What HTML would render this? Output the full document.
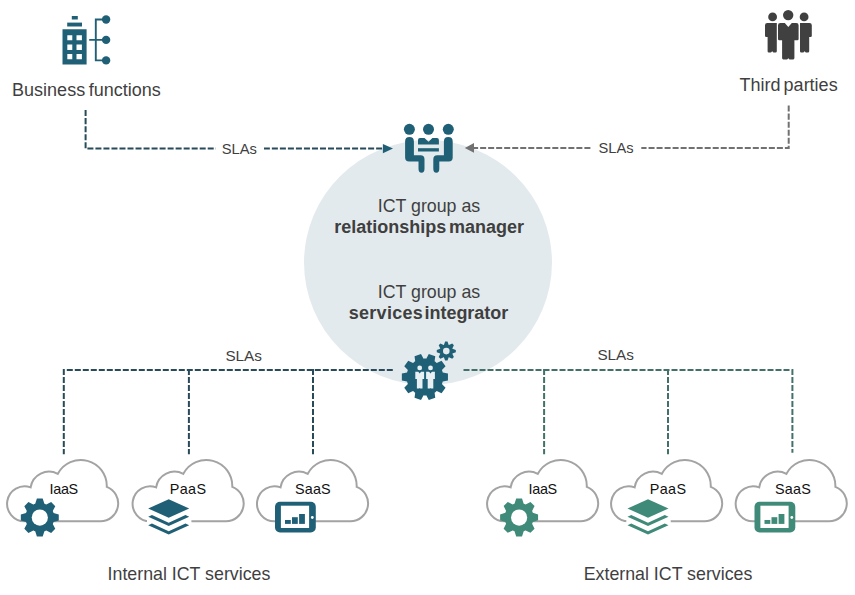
<!DOCTYPE html>
<html><head><meta charset="utf-8"><title>ICT group diagram</title>
<style>
html,body{margin:0;padding:0;background:#fff;}
body{width:855px;height:595px;overflow:hidden;}
svg{display:block;font-family:"Liberation Sans",sans-serif;}
</style></head><body>
<svg width="855" height="595" viewBox="0 0 855 595">
<ellipse cx="428" cy="262.6" rx="124" ry="122.5" fill="#e3eaed"/>
<g fill="#206077"><rect x="71.8" y="16" width="6" height="3.5"/><rect x="67.2" y="22.6" width="14.8" height="3.9"/><path d="M62.5 29.2H86.6V64.4H62.5Z M67.3 35.2h5v5.1h-5Z M76.5 35.2h5.4v5.1h-5.4Z M67.3 44.6h5v5.3h-5Z M76.5 44.6h5.4v5.3h-5.4Z M67.3 53.9h5v5.3h-5Z M76.5 53.9h5.4v5.3h-5.4Z" fill-rule="evenodd"/><circle cx="106.1" cy="19.5" r="4.2"/><circle cx="106.1" cy="39.9" r="4.2"/><circle cx="106.1" cy="60.4" r="4.2"/></g><path d="M89.2 39.9H106 M106 19.5H95.8V60.4H106" fill="none" stroke="#206077" stroke-width="1.9"/>
<g fill="#404040"><circle cx="772.6" cy="16.9" r="4.4"/><circle cx="804.1" cy="16.9" r="4.4"/><circle cx="788.2" cy="15.1" r="5.2"/><path d="M767.3 23H776.8V51.2Q776.8 52.5 775.6 52.5H773.4L772.2 51.3L771 52.5H768.8Q767.6 52.5 767.6 51.2V37H766.2Q765 37 765 35.8V25.3Q765 23 767.3 23Z"/><path d="M809.5 23H800V51.2Q800 52.5 801.2 52.5H803.4L804.6 51.3L805.8 52.5H808Q809.2 52.5 809.2 51.2V37H810.6Q811.8 37 811.8 35.8V25.3Q811.8 23 809.5 23Z"/></g><path d="M777 22.1H799.6V41.2H795.4V60.3H781.1V41.2H777Z" fill="#fff"/><path d="M780.4 23H784.8L788.3 27L791.8 23H796.3Q798.6 23 798.6 25.3V39Q798.6 40.2 797.4 40.2H794.4V58.1Q794.4 59.4 793.2 59.4H789.5L788.3 58.2L787.1 59.4H783.3Q782.1 59.4 782.1 58.1V40.2H779.2Q778 40.2 778 39V25.3Q778 23 780.4 23Z" fill="#404040"/>
<g fill="#206077"><circle cx="409.4" cy="129.3" r="5.5"/><circle cx="428.5" cy="129.3" r="5.5"/><circle cx="448.3" cy="129.3" r="5.5"/><path d="M405.1 141.5Q405.1 137.1 409.5 137.1Q413.9 137.1 413.9 141.5V155.2H420.5Q424.5 155.2 424.5 159.2V168.4Q424.5 172.7 421.5 172.7Q418.5 172.7 418.5 168.4V161.6H409.1Q405.1 161.6 405.1 157.6Z"/><path d="M452.7 141.5Q452.7 137.1 448.3 137.1Q443.9 137.1 443.9 141.5V155.2H437.3Q433.3 155.2 433.3 159.2V168.4Q433.3 172.7 436.3 172.7Q439.3 172.7 439.3 168.4V161.6H448.7Q452.7 161.6 452.7 157.6Z"/><path d="M420 138H424.5L428.5 141.7L432.4 138H437Q438.9 138 438.9 140V144.5H418V140Q418 138 420 138Z"/><rect x="418" y="148.2" width="20.9" height="3.3"/></g>
<path d="M85.6 110.1V148.4H383.5" fill="none" stroke="#274b59" stroke-width="2" stroke-dasharray="6.02 2"/>
<rect x="215.8" y="140" width="48.2" height="17" fill="#fff"/>
<polygon points="382.9,143.9 393,148.5 382.9,153.2" fill="#206077"/>
<path d="M788.7 105.6V147.9H473.5" fill="none" stroke="#717171" stroke-width="2" stroke-dasharray="6.02 2"/>
<rect x="591.2" y="140" width="50.1" height="17" fill="#fff"/>
<polygon points="474,143 464.8,147.9 474,152.8" fill="#717171"/>
<path d="M392.8 370.1H63.8V454.3" fill="none" stroke="#274b59" stroke-width="2" stroke-dasharray="6 2"/>
<path d="M188.9 369V454.3" fill="none" stroke="#274b59" stroke-width="2" stroke-dasharray="6 2"/>
<path d="M313 369V454.3" fill="none" stroke="#274b59" stroke-width="2" stroke-dasharray="6 2"/>
<path d="M463.5 370H792.4V452.7" fill="none" stroke="#43716a" stroke-width="2" stroke-dasharray="6 2"/>
<path d="M544.1 369V454.3" fill="none" stroke="#43716a" stroke-width="2" stroke-dasharray="6 2"/>
<path d="M668 369V454.3" fill="none" stroke="#43716a" stroke-width="2" stroke-dasharray="6 2"/>
<path d="M426.24 358.65L428.79 354.03L435.26 356.13L434.61 361.37L434.98 361.61L435.35 361.86L435.72 362.11L436.07 362.38L436.42 362.66L436.77 362.94L441.55 360.7L445.55 366.2L441.94 370.06L442.1 370.47L442.26 370.89L442.4 371.31L442.53 371.74L442.65 372.17L442.77 372.6L447.95 373.6L447.95 380.4L442.77 381.4L442.65 381.83L442.53 382.26L442.4 382.69L442.26 383.11L442.1 383.53L441.94 383.94L445.55 387.8L441.55 393.3L436.77 391.06L436.42 391.34L436.07 391.62L435.72 391.89L435.35 392.14L434.98 392.39L434.61 392.63L435.26 397.87L428.79 399.97L426.24 395.35L425.79 395.38L425.35 395.39L424.9 395.4L424.45 395.39L424.01 395.38L423.56 395.35L421.01 399.97L414.54 397.87L415.19 392.63L414.82 392.39L414.45 392.14L414.08 391.89L413.73 391.62L413.38 391.34L413.03 391.06L408.25 393.3L404.25 387.8L407.86 383.94L407.7 383.53L407.54 383.11L407.4 382.69L407.27 382.26L407.15 381.83L407.03 381.4L401.85 380.4L401.85 373.6L407.03 372.6L407.15 372.17L407.27 371.74L407.4 371.31L407.54 370.89L407.7 370.47L407.86 370.06L404.25 366.2L408.25 360.7L413.03 362.94L413.38 362.66L413.73 362.38L414.08 362.11L414.45 361.86L414.82 361.61L415.19 361.37L414.54 356.13L421.01 354.03L423.56 358.65L424.01 358.62L424.45 358.61L424.9 358.6L425.35 358.61L425.79 358.62Z" fill="#206077"/>
<path d="M443.9 344.95L445.1 341.58L447.5 341.58L448.7 344.95L448.74 344.97L448.78 344.99L448.83 345L448.87 345.02L448.91 345.04L448.95 345.06L452.19 343.52L453.88 345.21L452.34 348.45L452.36 348.49L452.38 348.53L452.4 348.57L452.41 348.62L452.43 348.66L452.45 348.7L455.82 349.9L455.82 352.3L452.45 353.5L452.43 353.54L452.41 353.58L452.4 353.63L452.38 353.67L452.36 353.71L452.34 353.75L453.88 356.99L452.19 358.68L448.95 357.14L448.91 357.16L448.87 357.18L448.83 357.2L448.78 357.21L448.74 357.23L448.7 357.25L447.5 360.62L445.1 360.62L443.9 357.25L443.86 357.23L443.82 357.21L443.77 357.2L443.73 357.18L443.69 357.16L443.65 357.14L440.41 358.68L438.72 356.99L440.26 353.75L440.24 353.71L440.22 353.67L440.2 353.63L440.19 353.58L440.17 353.54L440.15 353.5L436.78 352.3L436.78 349.9L440.15 348.7L440.17 348.66L440.19 348.62L440.2 348.57L440.22 348.53L440.24 348.49L440.26 348.45L438.72 345.21L440.41 343.52L443.65 345.06L443.69 345.04L443.73 345.02L443.77 345L443.82 344.99L443.86 344.97ZM443 351.1a3.3 3.3 0 1 0 6.6 0a3.3 3.3 0 1 0 -6.6 0Z" fill="#206077" fill-rule="evenodd"/>
<circle cx="419.7" cy="367.9" r="2.4" fill="#e9f0f3"/>
<path d="M415.3 371.8H418.3L419.7 373.4L421.1 371.8H424.1V379.1H422.5V388.6H420.2L419.7 388L419.2 388.6H416.9V379.1H415.3Z" fill="#e9f0f3"/>
<circle cx="430.5" cy="367.9" r="2.4" fill="#e9f0f3"/>
<path d="M426.1 371.8H429.1L430.5 373.4L431.9 371.8H434.9V379.1H433.3V388.6H431L430.5 388L430 388.6H427.7V379.1H426.1Z" fill="#e9f0f3"/>
<path d="M24.6 521.3A17.5 17.5 0 1 1 30.62 487.37A18.6 18.6 0 0 1 57.83 473.83A26 26 0 0 1 106.79 486.81A17.85 17.85 0 0 1 100.45 521.3Z" fill="#fff" stroke="#a3a3a3" stroke-width="2"/>
<path d="M150.1 521.3A17.5 17.5 0 1 1 156.12 487.37A18.6 18.6 0 0 1 183.33 473.83A26 26 0 0 1 232.29 486.81A17.85 17.85 0 0 1 225.95 521.3Z" fill="#fff" stroke="#a3a3a3" stroke-width="2"/>
<path d="M274.5 521.3A17.5 17.5 0 1 1 280.52 487.37A18.6 18.6 0 0 1 307.73 473.83A26 26 0 0 1 356.69 486.81A17.85 17.85 0 0 1 350.35 521.3Z" fill="#fff" stroke="#a3a3a3" stroke-width="2"/>
<path d="M504.6 521.3A17.5 17.5 0 1 1 510.62 487.37A18.6 18.6 0 0 1 537.83 473.83A26 26 0 0 1 586.79 486.81A17.85 17.85 0 0 1 580.45 521.3Z" fill="#fff" stroke="#a3a3a3" stroke-width="2"/>
<path d="M628.6 521.3A17.5 17.5 0 1 1 634.62 487.37A18.6 18.6 0 0 1 661.83 473.83A26 26 0 0 1 710.79 486.81A17.85 17.85 0 0 1 704.45 521.3Z" fill="#fff" stroke="#a3a3a3" stroke-width="2"/>
<path d="M753.2 521.3A17.5 17.5 0 1 1 759.22 487.37A18.6 18.6 0 0 1 786.43 473.83A26 26 0 0 1 835.39 486.81A17.85 17.85 0 0 1 829.05 521.3Z" fill="#fff" stroke="#a3a3a3" stroke-width="2"/>
<path d="M35.2 503.75L36.9 498.52L42.7 498.52L44.4 503.75L44.72 503.86L45.04 503.98L45.35 504.1L45.66 504.24L45.97 504.38L46.27 504.52L51.17 502.03L55.27 506.13L52.78 511.03L52.92 511.33L53.06 511.64L53.2 511.95L53.32 512.26L53.44 512.58L53.55 512.9L58.78 514.6L58.78 520.4L53.55 522.1L53.44 522.42L53.32 522.74L53.2 523.05L53.06 523.36L52.92 523.67L52.78 523.97L55.27 528.87L51.17 532.97L46.27 530.48L45.97 530.62L45.66 530.76L45.35 530.9L45.04 531.02L44.72 531.14L44.4 531.25L42.7 536.48L36.9 536.48L35.2 531.25L34.88 531.14L34.56 531.02L34.25 530.9L33.94 530.76L33.63 530.62L33.33 530.48L28.43 532.97L24.33 528.87L26.82 523.97L26.68 523.67L26.54 523.36L26.4 523.05L26.28 522.74L26.16 522.42L26.05 522.1L20.82 520.4L20.82 514.6L26.05 512.9L26.16 512.58L26.28 512.26L26.4 511.95L26.54 511.64L26.68 511.33L26.82 511.03L24.33 506.13L28.43 502.03L33.33 504.52L33.63 504.38L33.94 504.24L34.25 504.1L34.56 503.98L34.88 503.86Z" fill="#206077"/><circle cx="39.8" cy="517.6" r="8.1" fill="#fff"/>
<path d="M514.5 503.65L516.2 498.42L522 498.42L523.7 503.65L524.02 503.76L524.34 503.88L524.65 504L524.96 504.14L525.27 504.28L525.57 504.42L530.47 501.93L534.57 506.03L532.08 510.93L532.22 511.23L532.36 511.54L532.5 511.85L532.62 512.16L532.74 512.48L532.85 512.8L538.08 514.5L538.08 520.3L532.85 522L532.74 522.32L532.62 522.64L532.5 522.95L532.36 523.26L532.22 523.57L532.08 523.87L534.57 528.77L530.47 532.87L525.57 530.38L525.27 530.52L524.96 530.66L524.65 530.8L524.34 530.92L524.02 531.04L523.7 531.15L522 536.38L516.2 536.38L514.5 531.15L514.18 531.04L513.86 530.92L513.55 530.8L513.24 530.66L512.93 530.52L512.63 530.38L507.73 532.87L503.63 528.77L506.12 523.87L505.98 523.57L505.84 523.26L505.7 522.95L505.58 522.64L505.46 522.32L505.35 522L500.12 520.3L500.12 514.5L505.35 512.8L505.46 512.48L505.58 512.16L505.7 511.85L505.84 511.54L505.98 511.23L506.12 510.93L503.63 506.03L507.73 501.93L512.63 504.42L512.93 504.28L513.24 504.14L513.55 504L513.86 503.88L514.18 503.76Z" fill="#3f8a78"/><circle cx="519.1" cy="517.6" r="8.1" fill="#fff"/>
<polygon points="168.7,499.2 189.2,508.5 189.2,525.3 168.7,534.6 148.2,525.3 148.2,508.5" fill="#fff"/><rect x="147" y="517" width="44.4" height="8" fill="#fff"/><polygon points="168.7,499.2 189.2,508.5 168.7,517.8 148.2,508.5" fill="#206077"/><polygon points="148.2,516.8 151.95,515.1 168.7,522.7 185.45,515.1 189.2,516.8 168.7,526.1" fill="#206077"/><polygon points="148.2,525.3 151.95,523.6 168.7,531.2 185.45,523.6 189.2,525.3 168.7,534.6" fill="#206077"/>
<polygon points="648,499.2 668.5,508.5 668.5,525.3 648,534.6 627.5,525.3 627.5,508.5" fill="#fff"/><rect x="626.3" y="517" width="44.4" height="8" fill="#fff"/><polygon points="648,499.2 668.5,508.5 648,517.8 627.5,508.5" fill="#3f8a78"/><polygon points="627.5,516.8 631.25,515.1 648,522.7 664.75,515.1 668.5,516.8 648,526.1" fill="#3f8a78"/><polygon points="627.5,525.3 631.25,523.6 648,531.2 664.75,523.6 668.5,525.3 648,534.6" fill="#3f8a78"/>
<rect x="275" y="501.8" width="40.8" height="30.6" rx="5" fill="#206077"/><rect x="280.9" y="505.7" width="28.2" height="22.3" fill="#fff"/><circle cx="312.3" cy="517.5" r="1.4" fill="#fff"/><rect x="285" y="520.0" width="5.8" height="3.9" fill="#206077"/><rect x="292" y="517.2" width="5.8" height="6.7" fill="#206077"/><rect x="299.1" y="514.0" width="5.8" height="9.9" fill="#206077"/>
<rect x="754.5" y="501.8" width="40.8" height="30.6" rx="5" fill="#3f8a78"/><rect x="760.4" y="505.7" width="28.2" height="22.3" fill="#fff"/><circle cx="791.8" cy="517.5" r="1.4" fill="#fff"/><rect x="764.5" y="520.0" width="5.8" height="3.9" fill="#3f8a78"/><rect x="771.5" y="517.2" width="5.8" height="6.7" fill="#3f8a78"/><rect x="778.6" y="514.0" width="5.8" height="9.9" fill="#3f8a78"/>
<text x="12.1" y="96" font-size="18" fill="#3f3f3f" font-weight="normal" text-anchor="start" word-spacing="-1.5">Business functions</text>
<text x="739.6" y="91" font-size="18" fill="#3f3f3f" font-weight="normal" text-anchor="start" word-spacing="-2">Third parties</text>
<text x="221.8" y="154" font-size="14.7" fill="#3f3f3f" font-weight="normal" text-anchor="start">SLAs</text>
<text x="598.5" y="152.9" font-size="14.7" fill="#3f3f3f" font-weight="normal" text-anchor="start">SLAs</text>
<text x="225.4" y="361" font-size="15.3" fill="#3f3f3f" font-weight="normal" text-anchor="start">SLAs</text>
<text x="597.4" y="360" font-size="15.3" fill="#3f3f3f" font-weight="normal" text-anchor="start">SLAs</text>
<text x="429" y="212" font-size="17.8" fill="#3f3f3f" font-weight="normal" text-anchor="middle">ICT group as</text>
<text x="429.1" y="232.7" font-size="18" fill="#3f3f3f" font-weight="bold" text-anchor="middle" word-spacing="-2.2">relationships manager</text>
<text x="429" y="297.8" font-size="17.8" fill="#3f3f3f" font-weight="normal" text-anchor="middle">ICT group as</text>
<text x="348.7" y="318.6" font-size="18" fill="#3f3f3f" font-weight="bold" text-anchor="start" letter-spacing="0.3">services</text>
<text x="424.6" y="318.6" font-size="18" fill="#3f3f3f" font-weight="bold" text-anchor="start" letter-spacing="-0.05">integrator</text>
<text x="49.6" y="493.6" font-size="14.4" fill="#111111" font-weight="normal" text-anchor="start" letter-spacing="-0.35">IaaS</text>
<text x="169.8" y="493.6" font-size="14.4" fill="#111111" font-weight="normal" text-anchor="start" letter-spacing="0.35">PaaS</text>
<text x="294.9" y="493.6" font-size="14.4" fill="#111111" font-weight="normal" text-anchor="start" letter-spacing="0.2">SaaS</text>
<text x="528.6" y="493.6" font-size="14.4" fill="#111111" font-weight="normal" text-anchor="start" letter-spacing="-0.35">IaaS</text>
<text x="649.8" y="493.6" font-size="14.4" fill="#111111" font-weight="normal" text-anchor="start" letter-spacing="0.35">PaaS</text>
<text x="775" y="493.6" font-size="14.4" fill="#111111" font-weight="normal" text-anchor="start" letter-spacing="0.2">SaaS</text>
<text x="107.6" y="579.7" font-size="17.8" fill="#3f3f3f" font-weight="normal" text-anchor="start">Internal ICT services</text>
<text x="583.7" y="579.7" font-size="17.8" fill="#3f3f3f" font-weight="normal" text-anchor="start">External ICT services</text>
</svg>
</body></html>
